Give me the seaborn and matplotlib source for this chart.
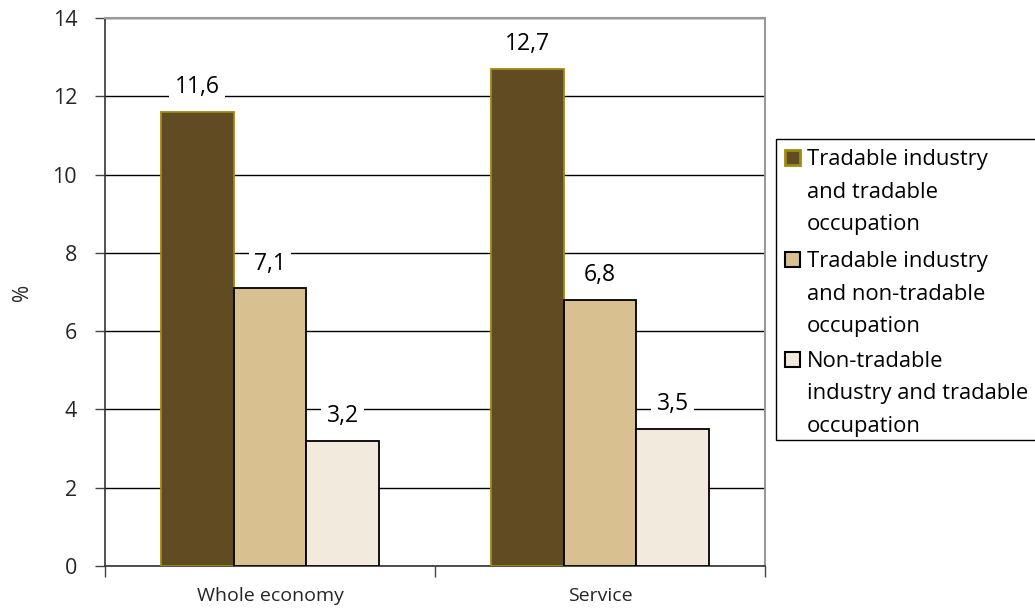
import matplotlib
matplotlib.use("Agg")
import matplotlib.pyplot as plt
import seaborn as sns
import pandas as pd
from matplotlib.patches import Rectangle

categories = ["Whole economy", "Service"]
series = ["Tradable industry\nand tradable\noccupation",
          "Tradable industry\nand non-tradable\noccupation",
          "Non-tradable\nindustry and tradable\noccupation"]
values = {
    series[0]: [11.6, 12.7],
    series[1]: [7.1, 6.8],
    series[2]: [3.2, 3.5],
}
yticks = [0, 2, 4, 6, 8, 10, 12, 14]

fills = ["#614B22", "#D8C091", "#F2EADC"]
edges = ["#A08A10", "#000000", "#000000"]

sns.set_theme(style="white")
plt.rcParams['font.family'] = ['Open Sans', 'DejaVu Sans']

rows = []
for s in series:
    for c, v in zip(categories, values[s]):
        rows.append({"cat": c, "series": s, "val": v})
df = pd.DataFrame(rows)

W, H = 1035, 612
fig = plt.figure(figsize=(W / 100, H / 100), dpi=100)
ax = fig.add_axes([0.1014, 0.0752, 0.6377, 0.8954])

sns.barplot(data=df, x="cat", y="val", hue="series", hue_order=series,
            order=categories, palette=fills, width=0.66, gap=0,
            saturation=1, ax=ax, legend=False, zorder=3)

for cont, ec in zip(ax.containers, edges):
    for p in cont:
        p.set_edgecolor(ec)
        p.set_linewidth(1.3)
        p.set_zorder(3)
    labs = [f"{v:.1f}".replace(".", ",") for v in cont.datavalues]
    ax.bar_label(cont, labels=labs, padding=9, fontsize=16.5, color="black",
                 bbox=dict(facecolor="white", edgecolor="none", pad=4), zorder=4)

ax.set_ylim(0, 14)
ax.set_xlim(-0.5, 1.5)
ax.set_yticks(yticks)
ax.set_yticklabels([str(t) for t in yticks], fontsize=15.5)
ax.yaxis.grid(True, color="#000000", linewidth=1.0, zorder=0)
ax.set_axisbelow(True)

ax.set_xticks([0, 1])
ax.set_xticklabels(categories, fontsize=14)
ax.set_xticks([-0.5, 0.5, 1.5], minor=True)
ax.tick_params(axis="x", which="major", length=0, pad=15)
ax.tick_params(axis="x", which="minor", length=8, width=1, color="#444444", bottom=True)
ax.tick_params(axis="y", length=7, width=1, color="#444444", left=True, pad=13)
ax.set_xlabel("")
ax.set_ylabel("%", fontsize=15, labelpad=14)

for side in ["left", "bottom"]:
    ax.spines[side].set_color("#333333")
    ax.spines[side].set_linewidth(1.2)
for side in ["top", "right"]:
    ax.spines[side].set_visible(True)
    ax.spines[side].set_color("#999999")
    ax.spines[side].set_linewidth(1.5)

# manual legend (pixel layout)
def fx(px):
    return px / W

def fy(py):
    return 1 - py / H

fig.patches.append(Rectangle((fx(776), fy(440)), fx(1045) - fx(776), fy(139) - fy(440),
                             transform=fig.transFigure, facecolor="white",
                             edgecolor="black", linewidth=1.0, zorder=5))
entry_base = [165, 267, 367]
line_step = 32.5
for s, f, e, b in zip(series, fills, edges, entry_base):
    fig.patches.append(Rectangle((fx(785), fy(b)), fx(800) - fx(785), fy(150) - fy(165),
                                 transform=fig.transFigure, facecolor=f,
                                 edgecolor=e, linewidth=2.0 if e != "#000000" else 1.5,
                                 zorder=6))
    for i, line in enumerate(s.split("\n")):
        fig.text(fx(807), fy(b + i * line_step), line, fontsize=15.8,
                 ha="left", va="baseline", color="black", zorder=7)

fig.savefig("out.png", dpi=100)
